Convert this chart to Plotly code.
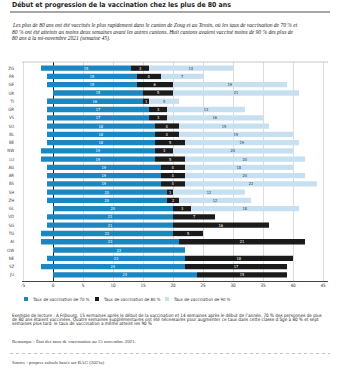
import plotly.graph_objects as go

# ---------------- data ----------------
cantons = ["ZG", "FR", "GE", "UR", "TI", "GR", "VS", "SO", "BL", "BE", "NW", "LU", "AG",
           "AR", "BS", "SH", "ZH", "GL", "VD", "SG", "TG", "AI", "OW", "NE", "SZ", "JU"]
start_week = [-2, -1, -1, 0, -1, -1, -1, -1, -1, -1, -2, -2, -1,
              -1, -1, -1, -1, 0, -1, -1, -2, -2, 0, -1, -2, 0]
weeks_70 = [15, 15, 15, 15, 16, 17, 17, 18, 18, 18, 19, 19, 19,
            19, 19, 20, 20, 20, 21, 21, 22, 23, 22, 23, 24, 24]
weeks_80 = [3, 4, 6, 5, 1, 3, 3, 4, 4, 5, 3, 5, 4,
            4, 4, 1, 2, 3, 7, 16, 5, 21, None, 18, 17, 15]
weeks_90 = [14, 7, 19, 21, 5, 13, 16, 15, 19, 19, 20, 20, 18,
            20, 22, 12, 12, 18, None, None, None, None, None, None, None, None]
series_names = ["Taux de vaccination de 70 %", "Taux de vaccination de 80 %", "Taux de vaccination de 90 %"]
x_ticks = [-5, 0, 5, 10, 15, 20, 25, 30, 35, 40, 45]

title = "Début et progression de la vaccination chez les plus de 80 ans"
lead_lines = [
    "Les plus de 80 ans ont été vaccinés le plus rapidement dans le canton de Zoug et au Tessin, où les taux de vaccination de 70 % et",
    "80 % ont été atteints au moins deux semaines avant les autres cantons. Huit cantons avaient vacciné moins de 90 % des plus de",
    "80 ans à la mi-novembre 2021 (semaine 45).",
]
example_lines = [
    "Exemple de lecture : À Fribourg, 15 semaines après le début de la vaccination et 14 semaines après le début de l’année, 70 % des personnes de plus",
    "de 80 ans étaient vaccinées. Quatre semaines supplémentaires ont été nécessaires pour augmenter ce taux dans cette classe d’âge à 80 % et sept",
    "semaines plus tard, le taux de vaccination a même atteint les 90 %",
]
remark = "Remarque : État des taux de vaccination au 15 novembre 2021."
source = "Source : propres calculs basés sur BAG (2021a)"

# ---------------- styles ----------------
C70, C80, C90 = "#1a86c2", "#1b1b1b", "#c7e0f1"
SANS = "Liberation Sans Narrow, DejaVu Sans Condensed, Liberation Sans, Arial, sans-serif"
SERIF = "Liberation Serif, DejaVu Serif, serif"

W, H = 339, 372
L, R, T, B = 22, 11, 62, 91
PW, PH = W - L - R, H - T - B


def pxx(x):
    return (x - L) / PW


def pxy(y):
    return (H - B - y) / PH


base80 = [s + a for s, a in zip(start_week, weeks_70)]
base90 = [b + (c or 0) for b, c in zip(base80, weeks_80)]

fig = go.Figure()
bar_w = 0.64
common = dict(orientation="h", width=bar_w, textposition="inside", insidetextanchor="middle",
              constraintext="none", textangle=0, hoverinfo="skip", showlegend=False)
fig.add_trace(go.Bar(y=cantons, x=weeks_70, base=start_week, marker=dict(color=C70, line=dict(width=0)),
                     text=[str(v) for v in weeks_70],
                     textfont=dict(size=4, color="white", family=SANS), name=series_names[0], **common))
fig.add_trace(go.Bar(y=cantons, x=weeks_80, base=base80, marker=dict(color=C80, line=dict(width=0)),
                     text=[str(v) if v else "" for v in weeks_80],
                     textfont=dict(size=4, color="white", family=SANS), name=series_names[1], **common))
fig.add_trace(go.Bar(y=cantons, x=weeks_90, base=base90, marker=dict(color=C90, line=dict(width=0)),
                     text=[str(v) if v else "" for v in weeks_90],
                     textfont=dict(size=4, color="#333333", family=SANS), name=series_names[2], **common))

fig.update_layout(
    width=W, height=H, margin=dict(l=L, r=R, t=T, b=B, autoexpand=False),
    paper_bgcolor="white", plot_bgcolor="white", barmode="overlay", hovermode=False,
    font=dict(family=SANS, color="#333333"),
    xaxis=dict(range=[-5.17, 45.83], tickvals=x_ticks, ticktext=[str(v) for v in x_ticks],
               tickfont=dict(size=4.6, color="#333333"), showgrid=True, gridcolor="#dddddd", gridwidth=0.6,
               zeroline=True, zerolinecolor="#222222", zerolinewidth=1,
               showline=True, linecolor="#444444", linewidth=0.8, ticks="", fixedrange=True),
    yaxis=dict(type="category", categoryorder="array", categoryarray=cantons,
               range=[len(cantons) - 0.25, -0.75], tickfont=dict(size=4.4, color="#444444"),
               showgrid=False, zeroline=False, showline=False,
               ticks="outside", ticklen=6, tickcolor="rgba(0,0,0,0)", fixedrange=True),
)

shapes = []
ann = []
# title + rule
ann.append(dict(x=pxx(10), y=pxy(5), text=title, font=dict(family=SANS, size=6.9, color="#222222", weight="bold")))
shapes.append(dict(type="line", xref="paper", yref="paper", x0=pxx(10), x1=pxx(330), y0=pxy(12), y1=pxy(12),
                   line=dict(color="#8a8a8a", width=1.6)))
# lead paragraph
for i, t in enumerate(lead_lines):
    ann.append(dict(x=pxx(10), y=pxy(25 + 6.5 * i), text=t,
                    font=dict(family=SERIF, size=5.5, color="#222222", style="italic")))
# top border of plot
shapes.append(dict(type="line", xref="paper", yref="paper", x0=0, x1=1, y0=1, y1=1,
                   line=dict(color="#bbbbbb", width=0.8)))
# legend (manual)
leg_x = [24, 95, 165]
for lx, col, name in zip(leg_x, [C70, C80, C90], series_names):
    shapes.append(dict(type="rect", xref="paper", yref="paper", x0=pxx(lx), x1=pxx(lx + 4),
                       y0=pxy(301), y1=pxy(297), fillcolor=col, line=dict(width=0)))
    ann.append(dict(x=pxx(lx + 6), y=pxy(299), text=name, font=dict(family=SANS, size=4.4, color="#333333")))
# example
for i, t in enumerate(example_lines):
    ann.append(dict(x=pxx(10), y=pxy(314.5 + 4.6 * i), text=t, font=dict(family=SANS, size=4.6, color="#222222")))
ann.append(dict(x=pxx(10), y=pxy(341), text=remark, font=dict(family=SERIF, size=4.9, color="#333333")))
shapes.append(dict(type="line", xref="paper", yref="paper", x0=pxx(10), x1=pxx(330), y0=pxy(353.5), y1=pxy(353.5),
                   line=dict(color="#aaaaaa", width=0.7, dash="dot")))
ann.append(dict(x=pxx(10), y=pxy(362), text=source, font=dict(family=SERIF, size=4.8, color="#333333")))

for a in ann:
    a.update(xref="paper", yref="paper", xanchor="left", yanchor="middle", showarrow=False, align="left")

fig.update_layout(annotations=ann, shapes=shapes)
fig.write_html("out.html", include_plotlyjs=True, config={"displayModeBar": False})
